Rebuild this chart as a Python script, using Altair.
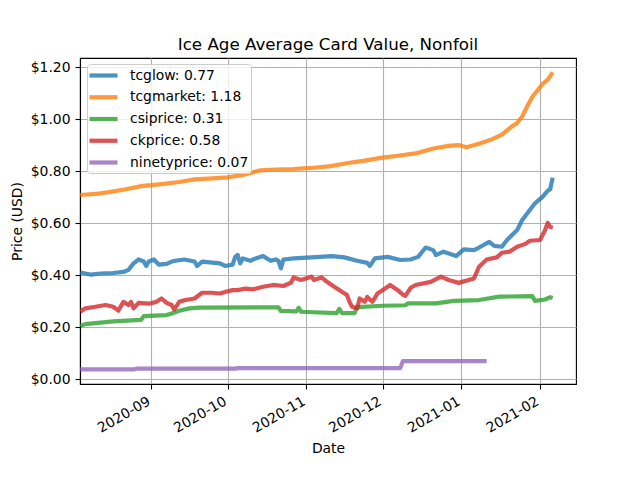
import altair as alt
import pandas as pd

# ---------------- data ----------------
series_names = ["tcglow", "tcgmarket", "csiprice", "ckprice", "ninetyprice"]
last_values = ["0.77", "1.18", "0.31", "0.58", "0.07"]
series_colors = ["#1f77b4", "#ff7f0e", "#2ca02c", "#d62728", "#9467bd"]

tcglow_dates = ["2020-08-04", "2020-08-08", "2020-08-12", "2020-08-17", "2020-08-21", "2020-08-23",
                "2020-08-25", "2020-08-27", "2020-08-29", "2020-08-30", "2020-08-31", "2020-09-02",
                "2020-09-04", "2020-09-07", "2020-09-09", "2020-09-11", "2020-09-14", "2020-09-18",
                "2020-09-19", "2020-09-21", "2020-09-25", "2020-09-28", "2020-09-30", "2020-10-03",
                "2020-10-04", "2020-10-05", "2020-10-06", "2020-10-07", "2020-10-10", "2020-10-12",
                "2020-10-15", "2020-10-18", "2020-10-20", "2020-10-21", "2020-10-22", "2020-10-23",
                "2020-10-27", "2020-11-03", "2020-11-11", "2020-11-16", "2020-11-21", "2020-11-25",
                "2020-11-26", "2020-11-28", "2020-12-03", "2020-12-08", "2020-12-12", "2020-12-15",
                "2020-12-18", "2020-12-21", "2020-12-22", "2020-12-25", "2020-12-30", "2021-01-02",
                "2021-01-06", "2021-01-08", "2021-01-12", "2021-01-14", "2021-01-17", "2021-01-19",
                "2021-01-23", "2021-01-25", "2021-01-28", "2021-01-30", "2021-02-02", "2021-02-04",
                "2021-02-05", "2021-02-06"]
tcglow_vals = [0.410, 0.402, 0.406, 0.408, 0.412, 0.420,
               0.445, 0.460, 0.452, 0.435, 0.452, 0.460,
               0.440, 0.443, 0.452, 0.456, 0.460, 0.452,
               0.435, 0.452, 0.448, 0.445, 0.435, 0.440,
               0.470, 0.477, 0.445, 0.464, 0.455, 0.464,
               0.473, 0.455, 0.460, 0.455, 0.426, 0.460,
               0.464, 0.468, 0.473, 0.468, 0.455, 0.447,
               0.435, 0.464, 0.470, 0.458, 0.460, 0.470,
               0.506, 0.496, 0.477, 0.490, 0.473, 0.499,
               0.496, 0.506, 0.528, 0.512, 0.509, 0.535,
               0.573, 0.612, 0.650, 0.676, 0.701, 0.724,
               0.730, 0.775]

tcgmarket_dates = ["2020-08-04", "2020-08-10", "2020-08-16", "2020-08-22", "2020-08-28", "2020-09-05",
                   "2020-09-12", "2020-09-18", "2020-09-25", "2020-10-01", "2020-10-07", "2020-10-14",
                   "2020-10-20", "2020-10-27", "2020-11-03", "2020-11-10", "2020-11-18", "2020-11-24",
                   "2020-12-01", "2020-12-07", "2020-12-14", "2020-12-21", "2020-12-27", "2020-12-31",
                   "2021-01-03", "2021-01-08", "2021-01-13", "2021-01-17", "2021-01-21", "2021-01-23",
                   "2021-01-25", "2021-01-27", "2021-01-29", "2021-01-31", "2021-02-02", "2021-02-04",
                   "2021-02-05", "2021-02-06"]
tcgmarket_vals = [0.708, 0.712, 0.720, 0.730, 0.742, 0.750,
                  0.758, 0.768, 0.772, 0.776, 0.785, 0.803,
                  0.806, 0.808, 0.812, 0.818, 0.832, 0.840,
                  0.852, 0.859, 0.868, 0.887, 0.897, 0.900,
                  0.892, 0.905, 0.922, 0.940, 0.972, 0.985,
                  1.010, 1.050, 1.086, 1.110, 1.135, 1.151,
                  1.165, 1.180]

csiprice_dates = ["2020-08-04", "2020-08-06", "2020-08-10", "2020-08-17", "2020-08-28", "2020-08-29",
                  "2020-09-07", "2020-09-09", "2020-09-12", "2020-09-16", "2020-09-20", "2020-10-21",
                  "2020-10-22", "2020-10-28", "2020-10-29", "2020-10-30", "2020-11-01", "2020-11-13",
                  "2020-11-14", "2020-11-15", "2020-11-20", "2020-11-21", "2020-12-01", "2020-12-10",
                  "2020-12-11", "2020-12-22", "2020-12-29", "2021-01-08", "2021-01-16", "2021-01-29",
                  "2021-01-30", "2021-02-03", "2021-02-05", "2021-02-06"]
csiprice_vals = [0.205, 0.211, 0.215, 0.222, 0.228, 0.242,
                 0.246, 0.252, 0.263, 0.272, 0.275, 0.276,
                 0.262, 0.260, 0.274, 0.259, 0.258, 0.254,
                 0.270, 0.254, 0.254, 0.277, 0.282, 0.284,
                 0.291, 0.291, 0.301, 0.304, 0.317, 0.319,
                 0.301, 0.306, 0.315, 0.312]

ckprice_dates = ["2020-08-04", "2020-08-06", "2020-08-10", "2020-08-14", "2020-08-17", "2020-08-19",
                 "2020-08-21", "2020-08-23", "2020-08-24", "2020-08-25", "2020-08-27", "2020-08-31",
                 "2020-09-03", "2020-09-05", "2020-09-07", "2020-09-09", "2020-09-10", "2020-09-12",
                 "2020-09-14", "2020-09-18", "2020-09-21", "2020-09-25", "2020-09-28", "2020-09-30",
                 "2020-10-03", "2020-10-05", "2020-10-08", "2020-10-11", "2020-10-15", "2020-10-19",
                 "2020-10-23", "2020-10-26", "2020-10-27", "2020-10-30", "2020-11-03", "2020-11-04",
                 "2020-11-07", "2020-11-09", "2020-11-12", "2020-11-15", "2020-11-17", "2020-11-18",
                 "2020-11-19", "2020-11-21", "2020-11-22", "2020-11-24", "2020-11-25", "2020-11-27",
                 "2020-11-29", "2020-12-01", "2020-12-04", "2020-12-07", "2020-12-09", "2020-12-10",
                 "2020-12-12", "2020-12-14", "2020-12-20", "2020-12-24", "2020-12-27", "2020-12-31",
                 "2021-01-06", "2021-01-08", "2021-01-11", "2021-01-15", "2021-01-17", "2021-01-20",
                 "2021-01-23", "2021-01-26", "2021-01-28", "2021-02-01", "2021-02-03", "2021-02-04",
                 "2021-02-05", "2021-02-06"]
ckprice_vals = [0.259, 0.272, 0.278, 0.285, 0.278, 0.263,
                0.297, 0.285, 0.297, 0.272, 0.293, 0.290,
                0.297, 0.310, 0.293, 0.285, 0.268, 0.297,
                0.303, 0.310, 0.332, 0.332, 0.329, 0.335,
                0.342, 0.342, 0.348, 0.345, 0.355, 0.362,
                0.358, 0.371, 0.391, 0.381, 0.394, 0.381,
                0.391, 0.375, 0.355, 0.336, 0.323, 0.297,
                0.278, 0.272, 0.310, 0.297, 0.316, 0.297,
                0.329, 0.342, 0.362, 0.342, 0.325, 0.320,
                0.350, 0.362, 0.374, 0.394, 0.381, 0.370,
                0.387, 0.432, 0.460, 0.468, 0.486, 0.490,
                0.509, 0.519, 0.532, 0.535, 0.573, 0.601,
                0.585, 0.583]

ninetyprice_dates = ["2020-08-04", "2020-08-25", "2020-08-26", "2020-10-04", "2020-10-05",
                     "2020-12-08", "2020-12-09", "2021-01-11"]
ninetyprice_vals = [0.037, 0.037, 0.040, 0.040, 0.042, 0.042, 0.069, 0.069]

all_dates = [tcglow_dates, tcgmarket_dates, csiprice_dates, ckprice_dates, ninetyprice_dates]
all_vals = [tcglow_vals, tcgmarket_vals, csiprice_vals, ckprice_vals, ninetyprice_vals]

y_ticks = [0.0, 0.2, 0.4, 0.6, 0.8, 1.0, 1.2]
x_ticks = [(2020, 9), (2020, 10), (2020, 11), (2020, 12), (2021, 1), (2021, 2)]

# ---------------- table ----------------
labels = [f"{n}: {v}" for n, v in zip(series_names, last_values)]
rows = []
for i, (lab, ds, vs) in enumerate(zip(labels, all_dates, all_vals)):
    for d, v in zip(ds, vs):
        rows.append({"date": d, "price": v, "label": lab, "order": i})
df = pd.DataFrame(rows)

FONT = "DejaVu Sans"

x_enc = alt.X(
    "date:T",
    title="Date",
    scale=alt.Scale(
        type="utc",
        domain=[alt.DateTime(year=2020, month=8, date=3, hours=22, utc=True),
                alt.DateTime(year=2021, month=2, date=15, hours=4, utc=True)],
    ),
    axis=alt.Axis(
        values=[alt.DateTime(year=y, month=m, date=1, utc=True) for y, m in x_ticks],
        labelExpr="utcFormat(datum.value, '%Y-%m')",
        labelAngle=330,
        labelAlign="right",
        labelBaseline="top",
        labelOffset=-6,
        labelPadding=5,
        tickSize=5,
        titleY=68,
        titleBaseline="alphabetic",
    ),
)

y_enc = alt.Y(
    "price:Q",
    title="Price (USD)",
    scale=alt.Scale(domain=[-0.019, 1.235], nice=False, zero=False),
    axis=alt.Axis(
        values=y_ticks,
        format="$.2f",
        tickSize=5,
        labelPadding=5,
        titleX=-63,
        titleBaseline="middle",
    ),
)

color_enc = alt.Color(
    "label:N",
    scale=alt.Scale(domain=labels, range=series_colors),
    legend=alt.Legend(
        title=None,
        orient="none",
        legendX=7,
        legendY=6,
        symbolType="M-2,0H2",
        symbolSize=196,
        symbolOffset=5,
        symbolStrokeWidth=4.2,
        symbolOpacity=0.8,
        labelFontSize=13.9,
        labelFont=FONT,
        labelColor="#000000",
        labelOffset=17,
        rowPadding=3.75,
        padding=2,
        fillColor="rgba(255,255,255,0.8)",
        strokeColor="#cccccc",
        cornerRadius=3,
    ),
)

chart = (
    alt.Chart(df)
    .mark_line(strokeWidth=4.2, opacity=0.8, strokeJoin="round", clip=True)
    .encode(x=x_enc, y=y_enc, color=color_enc, order="order:Q")
    .properties(
        width=496,
        height=326,
        autosize=alt.AutoSizeParams(type="none"),
        padding={"left": 72, "top": 50, "right": 56, "bottom": 88},
        title=alt.TitleParams(
            "Ice Age Average Card Value, Nonfoil",
            font=FONT,
            fontSize=16.7,
            fontWeight="normal",
            color="#000000",
            anchor="middle",
            baseline="alphabetic",
            frame="group",
            offset=9,
            dy=18,
        ),
    )
    .configure(font=FONT, background="white")
    .configure_view(stroke="#000000", strokeWidth=1.1)
    .configure_axis(
        labelFont=FONT,
        titleFont=FONT,
        labelFontSize=13.9,
        titleFontSize=13.9,
        titleFontWeight="normal",
        labelColor="#000000",
        titleColor="#000000",
        domainColor="#000000",
        domainWidth=1.1,
        tickColor="#000000",
        tickWidth=1.1,
        grid=True,
        gridColor="#b0b0b0",
        gridWidth=1.1,
        gridOpacity=1,
        labelOverlap=False,
        labelFlush=False,
    )
)

chart.save("out.html", embed_options={"renderer": "svg", "actions": False})
